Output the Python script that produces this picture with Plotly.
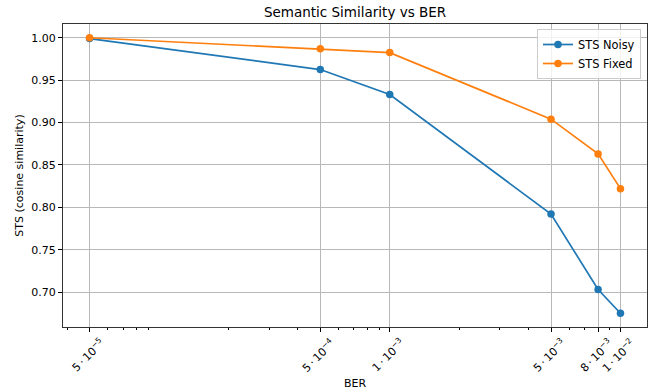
import math
import plotly.graph_objects as go

# ---- data ----
ber = [5e-5, 5e-4, 1e-3, 5e-3, 8e-3, 1e-2]
sts_noisy = [0.999, 0.9625, 0.933, 0.792, 0.703, 0.675]
sts_fixed = [1.000, 0.987, 0.9825, 0.904, 0.863, 0.822]
ber_tick_labels = ["5\u2009·\u200910<sup>−5</sup>", "5\u2009·\u200910<sup>−4</sup>",
                   "1\u2009·\u200910<sup>−3</sup>", "5\u2009·\u200910<sup>−3</sup>",
                   "8\u2009·\u200910<sup>−3</sup>", "1\u2009·\u200910<sup>−2</sup>"]
minor_ticks = [m * 10.0 ** e for e in (-5, -4, -3, -2) for m in range(2, 10)]

FONT = "DejaVu Sans"
BLUE = "#1f77b4"
ORANGE = "#ff7f0e"
GRID = "#b8b8b8"

# matplotlib-like 5% margins
lx0, lx1 = math.log10(min(ber)), math.log10(max(ber))
xspan = lx1 - lx0
xrange = [lx0 - 0.05 * xspan, lx1 + 0.05 * xspan]
ally = sts_noisy + sts_fixed
y0, y1 = min(ally), max(ally)
yspan = y1 - y0
yrange = [y0 - 0.05 * yspan, y1 + 0.05 * yspan]

fig = go.Figure()
fig.add_trace(go.Scatter(x=ber, y=sts_noisy, mode="lines+markers", name="STS Noisy",
                         line=dict(color=BLUE, width=1.7),
                         marker=dict(color=BLUE, size=7.5)))
fig.add_trace(go.Scatter(x=ber, y=sts_fixed, mode="lines+markers", name="STS Fixed",
                         line=dict(color=ORANGE, width=1.7),
                         marker=dict(color=ORANGE, size=7.5)))

# rotated x tick labels, centred under each tick (matplotlib style)
for v, t in zip(ber, ber_tick_labels):
    fig.add_annotation(x=math.log10(v), y=0, xref="x", yref="paper",
                       text=t, showarrow=False, textangle=-45,
                       xanchor="center", yanchor="top", yshift=-6, xshift=-2,
                       font=dict(family=FONT, size=11, color="black"))

fig.update_layout(
    width=654, height=392,
    margin=dict(l=63, r=7, t=24, b=65, autoexpand=False),
    paper_bgcolor="white", plot_bgcolor="white",
    font=dict(family=FONT, size=11, color="black"),
    title=dict(text="Semantic Similarity vs BER", x=0.5429, xanchor="center",
               y=1 - 12 / 392, yanchor="middle", yref="container",
               font=dict(family=FONT, size=13.5, color="black")),
    showlegend=True,
    legend=dict(x=0.9897, y=0.9835, xanchor="right", yanchor="top",
                bgcolor="rgba(255,255,255,0.8)", bordercolor="#cccccc", borderwidth=1,
                font=dict(family=FONT, size=11.4, color="black"),
                tracegroupgap=0, itemwidth=30),
    xaxis=dict(type="log", range=xrange, tickmode="array", tickvals=ber,
               showticklabels=False, ticks="outside", ticklen=4, tickwidth=1,
               tickcolor="black", showgrid=True, gridcolor=GRID, gridwidth=1,
               showline=True, linecolor="#333333", linewidth=1, mirror=True,
               zeroline=False, automargin=False,
               minor=dict(tickmode="array", tickvals=minor_ticks, ticks="outside",
                          ticklen=2, tickcolor="black", tickwidth=0.8, showgrid=False),
               title=dict(text="BER", standoff=48,
                          font=dict(family=FONT, size=11, color="black"))),
    yaxis=dict(range=yrange, tickmode="linear", tick0=0.7, dtick=0.05,
               tickformat=".2f", ticks="outside", ticklen=4, tickwidth=1,
               tickcolor="black", showgrid=True, gridcolor=GRID, gridwidth=1,
               showline=True, linecolor="#333333", linewidth=1, mirror=True,
               zeroline=False, automargin=False,
               tickfont=dict(family=FONT, size=11, color="black"),
               title=dict(text="STS (cosine similarity)", standoff=5,
                          font=dict(family=FONT, size=11, color="black"))),
)

fig.write_html("out.html", config={"displayModeBar": False},
               post_script="document.body.style.margin='0';document.body.style.overflow='hidden';")
